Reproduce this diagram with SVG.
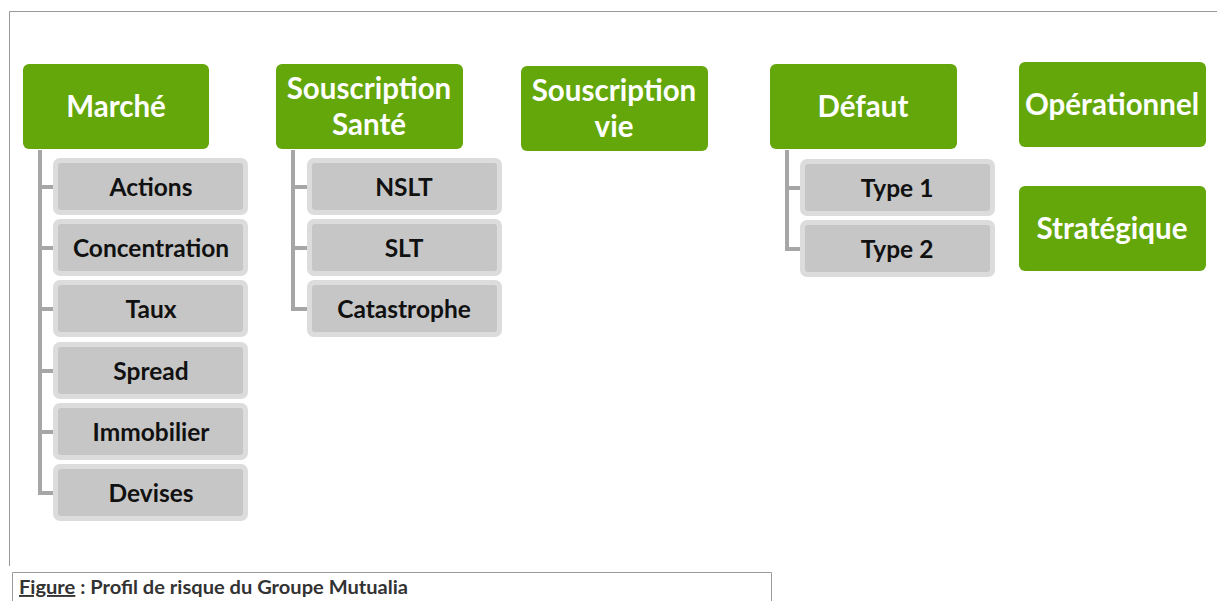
<svg xmlns="http://www.w3.org/2000/svg" width="1217" height="601" viewBox="0 0 1217 601">
<style>
.g{fill:#64A70B}
.gt{fill:#fff;font-family:Lato,"Open Sans",sans-serif;font-weight:bold;font-size:29.5px;text-anchor:middle}
.co{fill:#DCDCDC}
.ci{fill:#C6C6C6}
.ct{fill:#111;font-family:Lato,"Open Sans",sans-serif;font-weight:bold;font-size:24.5px;text-anchor:middle}
.ln{stroke:#A6A6A6;stroke-width:4;fill:none}
.fr{stroke:#999;stroke-width:1;fill:none}
</style>
<rect width="1217" height="601" fill="#fff"/>
<path class="fr" d="M9.5 566 V11.5 H1217"/>
<path class="fr" d="M12.5 601 V572.5 H771.5 V601"/>
<text x="19" y="594" font-family="Lato,'Open Sans',sans-serif" font-weight="bold" font-size="19" fill="#333" textLength="389" lengthAdjust="spacingAndGlyphs"><tspan text-decoration="underline">Figure</tspan> : Profil de risque du Groupe Mutualia</text>
<g id="connectors">
<path class="ln" d="M40 150 V493 H55 M40 187 H55 M40 248 H55 M40 309 H55 M40 371 H55 M40 432 H55"/>
<path class="ln" d="M293 150 V309 H308 M293 187 H308 M293 248 H308"/>
<path class="ln" d="M787 150 V249 H801 M787 188 H801"/>
</g>
<g id="marche"><rect class="g" x="23" y="64" width="186" height="85" rx="6"/><text class="gt" x="116" y="117">Marché</text></g>
<g id="sante"><rect class="g" x="276" y="64" width="187" height="85" rx="6"/><text class="gt" x="369" y="99">Souscription</text><text class="gt" x="369" y="135">Santé</text></g>
<g id="vie"><rect class="g" x="521" y="66" width="187" height="85" rx="6"/><text class="gt" x="614" y="101">Souscription</text><text class="gt" x="614" y="137">vie</text></g>
<g id="defaut"><rect class="g" x="770" y="64" width="187" height="85" rx="6"/><text class="gt" x="863" y="117">Défaut</text></g>
<g id="operationnel"><rect class="g" x="1019" y="62" width="187" height="85" rx="6"/><text class="gt" x="1112" y="115">Opérationnel</text></g>
<g id="strategique"><rect class="g" x="1019" y="186" width="187" height="85" rx="6"/><text class="gt" x="1112" y="239">Stratégique</text></g>
<g id="actions"><rect class="co" x="53" y="158" width="195" height="57" rx="7"/><rect class="ci" x="58" y="163" width="185" height="47" rx="3"/><text class="ct" x="151" y="196">Actions</text></g>
<g id="concentration"><rect class="co" x="53" y="219" width="195" height="57" rx="7"/><rect class="ci" x="58" y="224" width="185" height="47" rx="3"/><text class="ct" x="151" y="257">Concentration</text></g>
<g id="taux"><rect class="co" x="53" y="280" width="195" height="57" rx="7"/><rect class="ci" x="58" y="285" width="185" height="47" rx="3"/><text class="ct" x="151" y="318">Taux</text></g>
<g id="spread"><rect class="co" x="53" y="342" width="195" height="57" rx="7"/><rect class="ci" x="58" y="347" width="185" height="47" rx="3"/><text class="ct" x="151" y="380">Spread</text></g>
<g id="immobilier"><rect class="co" x="53" y="403" width="195" height="57" rx="7"/><rect class="ci" x="58" y="408" width="185" height="47" rx="3"/><text class="ct" x="151" y="441">Immobilier</text></g>
<g id="devises"><rect class="co" x="53" y="464" width="195" height="57" rx="7"/><rect class="ci" x="58" y="469" width="185" height="47" rx="3"/><text class="ct" x="151" y="502">Devises</text></g>
<g id="nslt"><rect class="co" x="307" y="158" width="195" height="57" rx="7"/><rect class="ci" x="312" y="163" width="185" height="47" rx="3"/><text class="ct" x="404" y="196">NSLT</text></g>
<g id="slt"><rect class="co" x="307" y="219" width="195" height="57" rx="7"/><rect class="ci" x="312" y="224" width="185" height="47" rx="3"/><text class="ct" x="404" y="257">SLT</text></g>
<g id="catastrophe"><rect class="co" x="307" y="280" width="195" height="57" rx="7"/><rect class="ci" x="312" y="285" width="185" height="47" rx="3"/><text class="ct" x="404" y="318">Catastrophe</text></g>
<g id="type1"><rect class="co" x="800" y="159" width="195" height="57" rx="7"/><rect class="ci" x="805" y="164" width="185" height="47" rx="3"/><text class="ct" x="897" y="197">Type 1</text></g>
<g id="type2"><rect class="co" x="800" y="220" width="195" height="57" rx="7"/><rect class="ci" x="805" y="225" width="185" height="47" rx="3"/><text class="ct" x="897" y="258">Type 2</text></g>
</svg>
